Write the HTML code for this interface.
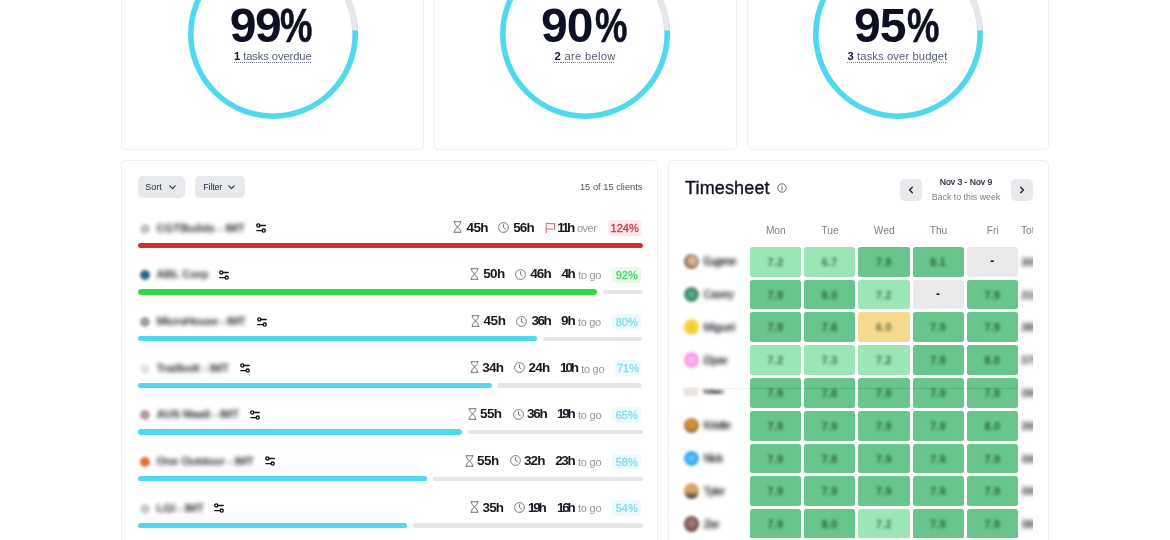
<!DOCTYPE html><html lang="en"><head><meta charset="utf-8"><title>Dashboard</title><style>
*{box-sizing:border-box;margin:0;padding:0}
html,body{width:1170px;height:540px;overflow:hidden;background:#fff}
body{position:relative;font-family:"Liberation Sans",sans-serif;color:#16182b}
.card{position:absolute;background:#fff;border:1px solid #efefef;border-radius:5px}
.abs{position:absolute;white-space:nowrap}
.gauge{position:absolute;width:172px;height:172px}
.big{position:absolute;font-weight:700;font-size:48px;line-height:50px;color:#0d0f22;white-space:nowrap}
.big i{font-style:normal;display:inline-block;transform:scaleX(.76);transform-origin:0 50%;-webkit-text-stroke:0.6px #0d0f22;letter-spacing:0}
.sub{position:absolute;font-size:11.2px;line-height:14px;color:#555d72;white-space:nowrap}
.sub span{text-decoration:underline dotted;text-decoration-thickness:1px;text-underline-offset:1.6px;text-decoration-color:#767d8f}
.sub b{color:#16182b}
.btn{position:absolute;background:#e8e9ec;border-radius:5px;font-size:9.5px;color:#2a2d3e}
.bar{position:absolute;height:5.2px;border-radius:3px}
.nm{position:absolute;font-size:11.5px;font-weight:700;color:#2e3038;filter:blur(1.9px);white-space:nowrap;line-height:14px}
.lg{position:absolute;width:10px;height:10px;border-radius:50%;filter:blur(1.8px)}
.t{position:absolute;font-size:13.5px;font-weight:700;line-height:14px;color:#181922;white-space:nowrap}
.g{position:absolute;font-size:11px;font-weight:400;line-height:14px;color:#9497a0;white-space:nowrap}
.bd{position:absolute;height:15.5px;border-radius:3px;font-size:11px;line-height:17.6px;text-align:center;font-weight:400;white-space:nowrap;-webkit-text-stroke:0.3px currentColor}
.ic{position:absolute}
.cell{position:absolute;width:51.4px;height:29.9px;border-radius:2.5px;text-align:center;font-size:10.5px;line-height:30px;font-weight:700;letter-spacing:0.4px;color:rgba(0,30,10,.62)}
.cell span{filter:blur(1.85px);display:inline-block}
.cell.dash{font-size:12px;color:#111;line-height:28.6px}
.day{position:absolute;width:52px;text-align:center;font-size:10.2px;line-height:12px;color:#7d8087}
.av{position:absolute;width:15.5px;height:15.5px;border-radius:50%;filter:blur(1.7px)}
.pn{position:absolute;font-size:11px;font-weight:400;color:#23262e;-webkit-text-stroke:0.35px #23262e;filter:blur(1.9px);white-space:nowrap;line-height:14px}
.tot{position:absolute;font-size:10.5px;font-weight:700;color:#2f3036;filter:blur(1.9px);line-height:14px}
</style></head><body>
<div class="card" style="left:121.4px;top:-20px;width:302.8px;height:170.1px"></div>
<svg class="gauge" style="left:186.8px;top:-52.2px" viewBox="0 0 172 172"><circle cx="86" cy="86" r="82.2" fill="none" stroke="#4fd8ee" stroke-width="5.6"/><path d="M168.1 82.4 A82.2 82.2 0 0 0 86 3.8" fill="none" stroke="#e7e7e9" stroke-width="6"/></svg>
<div class="big" style="left:229.7px;top:1.2px;letter-spacing:-1.4px">99<i style="margin-left:0px">%</i></div>
<div class="sub" style="left:234.0px;top:49.2px;letter-spacing:-0.098px"><span><b>1</b> tasks overdue</span></div>
<div class="card" style="left:434.0px;top:-20px;width:302.5px;height:170.1px"></div>
<svg class="gauge" style="left:499.2px;top:-52.2px" viewBox="0 0 172 172"><circle cx="86" cy="86" r="82.2" fill="none" stroke="#4fd8ee" stroke-width="5.6"/><path d="M168.1 82.4 A82.2 82.2 0 0 0 86 3.8" fill="none" stroke="#e7e7e9" stroke-width="6"/></svg>
<div class="big" style="left:541.0px;top:1.2px;letter-spacing:-0.9px">90<i style="margin-left:2px">%</i></div>
<div class="sub" style="left:554.6px;top:49.2px;letter-spacing:0.28px"><span><b>2</b> are below</span></div>
<div class="card" style="left:747.2px;top:-20px;width:301.9px;height:170.1px"></div>
<svg class="gauge" style="left:812.1px;top:-52.2px" viewBox="0 0 172 172"><circle cx="86" cy="86" r="82.2" fill="none" stroke="#4fd8ee" stroke-width="5.6"/><path d="M168.1 82.4 A82.2 82.2 0 0 0 86 3.8" fill="none" stroke="#e7e7e9" stroke-width="6"/></svg>
<div class="big" style="left:854.0px;top:1.2px;letter-spacing:-0.9px">95<i style="margin-left:1px">%</i></div>
<div class="sub" style="left:847.5px;top:49.2px;letter-spacing:0.12px"><span><b>3</b> tasks over budget</span></div>
<div class="card" style="left:121.4px;top:160.4px;width:536.7px;height:400px"></div>
<div class="btn" style="left:137.5px;top:176.2px;width:47.5px;height:22px"><span class="abs" style="left:7.8px;top:5px;line-height:12px;font-size:9px">Sort</span><svg class="ic" style="right:9.5px;top:8.6px" width="7" height="5" viewBox="0 0 7 5"><path d="M0.8 0.9 L3.5 3.7 L6.2 0.9" fill="none" stroke="#2a2d3e" stroke-width="1.15" stroke-linecap="round" stroke-linejoin="round"/></svg></div>
<div class="btn" style="left:195.3px;top:176.2px;width:49.4px;height:22px"><span class="abs" style="left:8px;top:5px;line-height:12px;font-size:9px;letter-spacing:-0.2px">Filter</span><svg class="ic" style="right:9.5px;top:8.6px" width="7" height="5" viewBox="0 0 7 5"><path d="M0.8 0.9 L3.5 3.7 L6.2 0.9" fill="none" stroke="#2a2d3e" stroke-width="1.15" stroke-linecap="round" stroke-linejoin="round"/></svg></div>
<div class="abs" style="right:527.5px;top:181px;font-size:9.3px;line-height:12px;color:#4a5163">15 of 15 clients</div>
<div class="bar" style="left:137.5px;top:242.6px;width:505.0px;background:#d22f32"></div>
<div class="lg" style="left:139.5px;top:223.5px;background:#c3c5cb"></div>
<div class="nm" style="left:156.5px;top:220.5px;letter-spacing:-0.081px">CGTBuilds - IMT</div>
<svg class="ic" style="left:255.5px;top:222.9px" width="10" height="10" viewBox="0 0 10 10"><path d="M3.8 2.4 H9.2 M0.8 7.6 H6.2" fill="none" stroke="#14151c" stroke-width="1.45" stroke-linecap="round"/><circle cx="2.3" cy="2.4" r="1.55" fill="none" stroke="#14151c" stroke-width="1.4"/><circle cx="7.7" cy="7.6" r="1.55" fill="none" stroke="#14151c" stroke-width="1.4"/></svg>
<svg class="ic" style="left:453.40000000000003px;top:221.0px" width="9" height="12" viewBox="0 0 9 12"><path d="M1 0.7 H8 M1 11.3 H8 M1.7 0.7 V2.6 C1.7 4.2 4.5 5 4.5 6 C4.5 7 1.7 7.8 1.7 9.4 V11.3 M7.3 0.7 V2.6 C7.3 4.2 4.5 5 4.5 6 C4.5 7 7.3 7.8 7.3 9.4 V11.3" fill="none" stroke="#6f727c" stroke-width="0.95" stroke-linecap="round" stroke-linejoin="round"/></svg>
<div class="t" style="left:466.5px;top:220.5px;letter-spacing:-0.631px">45h</div>
<svg class="ic" style="left:498.3px;top:221.8px" width="11" height="11" viewBox="0 0 11 11"><circle cx="5.5" cy="5.5" r="4.9" fill="none" stroke="#6f727c" stroke-width="0.95"/><path d="M5.5 2.6 V5.7 L7.4 6.8" fill="none" stroke="#6f727c" stroke-width="0.95" stroke-linecap="round" stroke-linejoin="round"/></svg>
<div class="t" style="left:513.3px;top:220.5px;letter-spacing:-0.931px">56h</div>
<svg class="ic" style="left:545.0999999999999px;top:221.5px" width="11" height="12" viewBox="0 0 11 12"><path d="M1.2 10.7 V1.2 M1.2 1.6 C3.5 0.4 6 2.4 9.6 1.4 V7 C6 8 3.5 6 1.2 7.2" fill="none" stroke="#e8636a" stroke-width="1.05" stroke-linecap="round" stroke-linejoin="round"/></svg>
<div class="t" style="left:557.3px;top:220.5px;letter-spacing:-2.3px">11h</div>
<div class="g" style="left:577.0px;top:221.3px;letter-spacing:-0.533px">over</div>
<div class="bd" style="left:607.8px;top:220.2px;width:33.7px;background:#fde9ea;color:#d5333b">124%</div>
<div class="bar" style="left:137.5px;top:289.4px;width:459.5px;background:#35d548"></div>
<div class="bar" style="left:603px;top:289.9px;height:4.4px;width:39.5px;background:#e6e6e6"></div>
<div class="lg" style="left:139.5px;top:270.3px;background:#2a6688"></div>
<div class="nm" style="left:156.5px;top:267.3px;letter-spacing:-0.207px">ABL Corp</div>
<svg class="ic" style="left:219.2px;top:269.7px" width="10" height="10" viewBox="0 0 10 10"><path d="M3.8 2.4 H9.2 M0.8 7.6 H6.2" fill="none" stroke="#14151c" stroke-width="1.45" stroke-linecap="round"/><circle cx="2.3" cy="2.4" r="1.55" fill="none" stroke="#14151c" stroke-width="1.4"/><circle cx="7.7" cy="7.6" r="1.55" fill="none" stroke="#14151c" stroke-width="1.4"/></svg>
<svg class="ic" style="left:470.40000000000003px;top:267.8px" width="9" height="12" viewBox="0 0 9 12"><path d="M1 0.7 H8 M1 11.3 H8 M1.7 0.7 V2.6 C1.7 4.2 4.5 5 4.5 6 C4.5 7 1.7 7.8 1.7 9.4 V11.3 M7.3 0.7 V2.6 C7.3 4.2 4.5 5 4.5 6 C4.5 7 7.3 7.8 7.3 9.4 V11.3" fill="none" stroke="#6f727c" stroke-width="0.95" stroke-linecap="round" stroke-linejoin="round"/></svg>
<div class="t" style="left:483.2px;top:267.3px;letter-spacing:-0.631px">50h</div>
<svg class="ic" style="left:515.3px;top:268.6px" width="11" height="11" viewBox="0 0 11 11"><circle cx="5.5" cy="5.5" r="4.9" fill="none" stroke="#6f727c" stroke-width="0.95"/><path d="M5.5 2.6 V5.7 L7.4 6.8" fill="none" stroke="#6f727c" stroke-width="0.95" stroke-linecap="round" stroke-linejoin="round"/></svg>
<div class="t" style="left:530.3px;top:267.3px;letter-spacing:-0.931px">46h</div>
<div class="t" style="left:561.5px;top:267.3px;letter-spacing:-1.455px">4h</div>
<div class="g" style="left:578.2px;top:268.1px;letter-spacing:-0.341px">to go</div>
<div class="bd" style="left:611.9px;top:267.0px;width:29.6px;background:#e6fbe9;color:#4cd662">92%</div>
<div class="bar" style="left:137.5px;top:336.3px;width:399.4px;background:#4fd8ee"></div>
<div class="bar" style="left:542.8px;top:336.8px;height:4.4px;width:99.7px;background:#e6e6e6"></div>
<div class="lg" style="left:139.5px;top:317.2px;background:#9d9fa6"></div>
<div class="nm" style="left:156.5px;top:314.2px;letter-spacing:-0.436px">MicroHouse - IMT</div>
<svg class="ic" style="left:256.5px;top:316.59999999999997px" width="10" height="10" viewBox="0 0 10 10"><path d="M3.8 2.4 H9.2 M0.8 7.6 H6.2" fill="none" stroke="#14151c" stroke-width="1.45" stroke-linecap="round"/><circle cx="2.3" cy="2.4" r="1.55" fill="none" stroke="#14151c" stroke-width="1.4"/><circle cx="7.7" cy="7.6" r="1.55" fill="none" stroke="#14151c" stroke-width="1.4"/></svg>
<svg class="ic" style="left:470.8px;top:314.7px" width="9" height="12" viewBox="0 0 9 12"><path d="M1 0.7 H8 M1 11.3 H8 M1.7 0.7 V2.6 C1.7 4.2 4.5 5 4.5 6 C4.5 7 1.7 7.8 1.7 9.4 V11.3 M7.3 0.7 V2.6 C7.3 4.2 4.5 5 4.5 6 C4.5 7 7.3 7.8 7.3 9.4 V11.3" fill="none" stroke="#6f727c" stroke-width="0.95" stroke-linecap="round" stroke-linejoin="round"/></svg>
<div class="t" style="left:483.6px;top:314.2px;letter-spacing:-0.481px">45h</div>
<svg class="ic" style="left:516.1px;top:315.5px" width="11" height="11" viewBox="0 0 11 11"><circle cx="5.5" cy="5.5" r="4.9" fill="none" stroke="#6f727c" stroke-width="0.95"/><path d="M5.5 2.6 V5.7 L7.4 6.8" fill="none" stroke="#6f727c" stroke-width="0.95" stroke-linecap="round" stroke-linejoin="round"/></svg>
<div class="t" style="left:531.4px;top:314.2px;letter-spacing:-1.431px">36h</div>
<div class="t" style="left:561.0px;top:314.2px;letter-spacing:-1.054px">9h</div>
<div class="g" style="left:578.0px;top:315.0px;letter-spacing:-0.316px">to go</div>
<div class="bd" style="left:611.9px;top:313.9px;width:29.6px;background:#eefbfe;color:#80dcee">80%</div>
<div class="bar" style="left:137.5px;top:382.8px;width:354.0px;background:#4fd8ee"></div>
<div class="bar" style="left:497.4px;top:383.3px;height:4.4px;width:145.1px;background:#e6e6e6"></div>
<div class="lg" style="left:139.5px;top:363.7px;background:#e3e4e7"></div>
<div class="nm" style="left:156.5px;top:360.7px;letter-spacing:-0.16px">Trailbolt - IMT</div>
<svg class="ic" style="left:239.7px;top:363.09999999999997px" width="10" height="10" viewBox="0 0 10 10"><path d="M3.8 2.4 H9.2 M0.8 7.6 H6.2" fill="none" stroke="#14151c" stroke-width="1.45" stroke-linecap="round"/><circle cx="2.3" cy="2.4" r="1.55" fill="none" stroke="#14151c" stroke-width="1.4"/><circle cx="7.7" cy="7.6" r="1.55" fill="none" stroke="#14151c" stroke-width="1.4"/></svg>
<svg class="ic" style="left:469.70000000000005px;top:361.2px" width="9" height="12" viewBox="0 0 9 12"><path d="M1 0.7 H8 M1 11.3 H8 M1.7 0.7 V2.6 C1.7 4.2 4.5 5 4.5 6 C4.5 7 1.7 7.8 1.7 9.4 V11.3 M7.3 0.7 V2.6 C7.3 4.2 4.5 5 4.5 6 C4.5 7 7.3 7.8 7.3 9.4 V11.3" fill="none" stroke="#6f727c" stroke-width="0.95" stroke-linecap="round" stroke-linejoin="round"/></svg>
<div class="t" style="left:482.3px;top:360.7px;letter-spacing:-0.781px">34h</div>
<svg class="ic" style="left:514.1px;top:362.0px" width="11" height="11" viewBox="0 0 11 11"><circle cx="5.5" cy="5.5" r="4.9" fill="none" stroke="#6f727c" stroke-width="0.95"/><path d="M5.5 2.6 V5.7 L7.4 6.8" fill="none" stroke="#6f727c" stroke-width="0.95" stroke-linecap="round" stroke-linejoin="round"/></svg>
<div class="t" style="left:528.6px;top:360.7px;letter-spacing:-0.781px">24h</div>
<div class="t" style="left:560.1px;top:360.7px;letter-spacing:-2.181px">10h</div>
<div class="g" style="left:581.2px;top:361.5px;letter-spacing:-0.266px">to go</div>
<div class="bd" style="left:614.5px;top:360.4px;width:27.0px;background:#eefbfe;color:#80dcee">71%</div>
<div class="bar" style="left:137.5px;top:429.4px;width:324.5px;background:#4fd8ee"></div>
<div class="bar" style="left:468px;top:429.9px;height:4.4px;width:174.5px;background:#e6e6e6"></div>
<div class="lg" style="left:139.5px;top:410.3px;background:#b59a9c"></div>
<div class="nm" style="left:156.5px;top:407.3px;letter-spacing:-0.275px">AUS Maali - IMT</div>
<svg class="ic" style="left:249.6px;top:409.7px" width="10" height="10" viewBox="0 0 10 10"><path d="M3.8 2.4 H9.2 M0.8 7.6 H6.2" fill="none" stroke="#14151c" stroke-width="1.45" stroke-linecap="round"/><circle cx="2.3" cy="2.4" r="1.55" fill="none" stroke="#14151c" stroke-width="1.4"/><circle cx="7.7" cy="7.6" r="1.55" fill="none" stroke="#14151c" stroke-width="1.4"/></svg>
<svg class="ic" style="left:468.0px;top:407.8px" width="9" height="12" viewBox="0 0 9 12"><path d="M1 0.7 H8 M1 11.3 H8 M1.7 0.7 V2.6 C1.7 4.2 4.5 5 4.5 6 C4.5 7 1.7 7.8 1.7 9.4 V11.3 M7.3 0.7 V2.6 C7.3 4.2 4.5 5 4.5 6 C4.5 7 7.3 7.8 7.3 9.4 V11.3" fill="none" stroke="#6f727c" stroke-width="0.95" stroke-linecap="round" stroke-linejoin="round"/></svg>
<div class="t" style="left:480.1px;top:407.3px;letter-spacing:-0.681px">55h</div>
<svg class="ic" style="left:512.6px;top:408.6px" width="11" height="11" viewBox="0 0 11 11"><circle cx="5.5" cy="5.5" r="4.9" fill="none" stroke="#6f727c" stroke-width="0.95"/><path d="M5.5 2.6 V5.7 L7.4 6.8" fill="none" stroke="#6f727c" stroke-width="0.95" stroke-linecap="round" stroke-linejoin="round"/></svg>
<div class="t" style="left:527.0px;top:407.3px;letter-spacing:-1.231px">36h</div>
<div class="t" style="left:557.0px;top:407.3px;letter-spacing:-2.3px">19h</div>
<div class="g" style="left:578.0px;top:408.1px;letter-spacing:-0.241px">to go</div>
<div class="bd" style="left:611.9px;top:407.0px;width:29.6px;background:#eefbfe;color:#80dcee">65%</div>
<div class="bar" style="left:137.5px;top:476.1px;width:289.5px;background:#4fd8ee"></div>
<div class="bar" style="left:432.5px;top:476.6px;height:4.4px;width:210.0px;background:#e6e6e6"></div>
<div class="lg" style="left:139.5px;top:457.0px;background:#e0703a"></div>
<div class="nm" style="left:156.5px;top:454.0px;letter-spacing:-0.227px">One Outdoor - IMT</div>
<svg class="ic" style="left:264.5px;top:456.4px" width="10" height="10" viewBox="0 0 10 10"><path d="M3.8 2.4 H9.2 M0.8 7.6 H6.2" fill="none" stroke="#14151c" stroke-width="1.45" stroke-linecap="round"/><circle cx="2.3" cy="2.4" r="1.55" fill="none" stroke="#14151c" stroke-width="1.4"/><circle cx="7.7" cy="7.6" r="1.55" fill="none" stroke="#14151c" stroke-width="1.4"/></svg>
<svg class="ic" style="left:464.6px;top:454.5px" width="9" height="12" viewBox="0 0 9 12"><path d="M1 0.7 H8 M1 11.3 H8 M1.7 0.7 V2.6 C1.7 4.2 4.5 5 4.5 6 C4.5 7 1.7 7.8 1.7 9.4 V11.3 M7.3 0.7 V2.6 C7.3 4.2 4.5 5 4.5 6 C4.5 7 7.3 7.8 7.3 9.4 V11.3" fill="none" stroke="#6f727c" stroke-width="0.95" stroke-linecap="round" stroke-linejoin="round"/></svg>
<div class="t" style="left:477.0px;top:454.0px;letter-spacing:-0.531px">55h</div>
<svg class="ic" style="left:510px;top:455.3px" width="11" height="11" viewBox="0 0 11 11"><circle cx="5.5" cy="5.5" r="4.9" fill="none" stroke="#6f727c" stroke-width="0.95"/><path d="M5.5 2.6 V5.7 L7.4 6.8" fill="none" stroke="#6f727c" stroke-width="0.95" stroke-linecap="round" stroke-linejoin="round"/></svg>
<div class="t" style="left:523.9px;top:454.0px;letter-spacing:-0.881px">32h</div>
<div class="t" style="left:555.2px;top:454.0px;letter-spacing:-1.381px">23h</div>
<div class="g" style="left:578.0px;top:454.8px;letter-spacing:-0.241px">to go</div>
<div class="bd" style="left:611.9px;top:453.7px;width:29.6px;background:#eefbfe;color:#80dcee">58%</div>
<div class="bar" style="left:137.5px;top:522.7px;width:269.2px;background:#4fd8ee"></div>
<div class="bar" style="left:412.5px;top:523.2px;height:4.4px;width:230.0px;background:#e6e6e6"></div>
<div class="lg" style="left:139.5px;top:503.6px;background:#c9ccd4"></div>
<div class="nm" style="left:156.5px;top:500.6px;letter-spacing:-0.248px">LGI - IMT</div>
<svg class="ic" style="left:214.39999999999998px;top:502.99999999999994px" width="10" height="10" viewBox="0 0 10 10"><path d="M3.8 2.4 H9.2 M0.8 7.6 H6.2" fill="none" stroke="#14151c" stroke-width="1.45" stroke-linecap="round"/><circle cx="2.3" cy="2.4" r="1.55" fill="none" stroke="#14151c" stroke-width="1.4"/><circle cx="7.7" cy="7.6" r="1.55" fill="none" stroke="#14151c" stroke-width="1.4"/></svg>
<svg class="ic" style="left:469.90000000000003px;top:501.09999999999997px" width="9" height="12" viewBox="0 0 9 12"><path d="M1 0.7 H8 M1 11.3 H8 M1.7 0.7 V2.6 C1.7 4.2 4.5 5 4.5 6 C4.5 7 1.7 7.8 1.7 9.4 V11.3 M7.3 0.7 V2.6 C7.3 4.2 4.5 5 4.5 6 C4.5 7 7.3 7.8 7.3 9.4 V11.3" fill="none" stroke="#6f727c" stroke-width="0.95" stroke-linecap="round" stroke-linejoin="round"/></svg>
<div class="t" style="left:482.5px;top:500.6px;letter-spacing:-0.881px">35h</div>
<svg class="ic" style="left:513.6px;top:501.9px" width="11" height="11" viewBox="0 0 11 11"><circle cx="5.5" cy="5.5" r="4.9" fill="none" stroke="#6f727c" stroke-width="0.95"/><path d="M5.5 2.6 V5.7 L7.4 6.8" fill="none" stroke="#6f727c" stroke-width="0.95" stroke-linecap="round" stroke-linejoin="round"/></svg>
<div class="t" style="left:528.1px;top:500.6px;letter-spacing:-2.3px">19h</div>
<div class="t" style="left:557.0px;top:500.6px;letter-spacing:-2.3px">16h</div>
<div class="g" style="left:578.0px;top:501.4px;letter-spacing:-0.241px">to go</div>
<div class="bd" style="left:611.9px;top:500.3px;width:29.6px;background:#eefbfe;color:#80dcee">54%</div>
<div class="card" style="left:667.8px;top:160.4px;width:381.3px;height:400px"></div>
<div class="abs" style="left:685px;top:176.6px;font-size:18px;line-height:22px;color:#111322;letter-spacing:0.15px;-webkit-text-stroke:0.35px #111322">Timesheet</div>
<svg class="ic" style="left:777px;top:183px" width="10" height="10" viewBox="0 0 10 10"><circle cx="5" cy="5" r="4.2" fill="none" stroke="#555a66" stroke-width="0.9"/><path d="M5 4.6 V7.1" stroke="#555a66" stroke-width="1" stroke-linecap="round"/><circle cx="5" cy="3" r="0.6" fill="#555a66"/></svg>
<div class="btn" style="left:900px;top:178.5px;width:22px;height:22px"><svg class="ic" style="left:8px;top:7px" width="6" height="8" viewBox="0 0 6 8"><path d="M4.3 1.2 L1.6 4 L4.3 6.8" fill="none" stroke="#1b1d2e" stroke-width="1.3" stroke-linecap="round" stroke-linejoin="round"/></svg></div>
<div class="btn" style="left:1010.5px;top:178.5px;width:22px;height:22px"><svg class="ic" style="left:8px;top:7px" width="6" height="8" viewBox="0 0 6 8"><path d="M1.7 1.2 L4.4 4 L1.7 6.8" fill="none" stroke="#1b1d2e" stroke-width="1.3" stroke-linecap="round" stroke-linejoin="round"/></svg></div>
<div class="abs" style="left:916px;width:100px;text-align:center;top:175.7px;font-size:8.6px;line-height:12px;color:#1b1d2e;-webkit-text-stroke:0.2px #1b1d2e">Nov 3 - Nov 9</div>
<div class="abs" style="left:916px;width:100px;text-align:center;top:191px;font-size:8.8px;line-height:12px;color:#7b818c">Back to this week</div>
<div style="position:absolute;left:680px;top:220px;width:353px;height:318px;overflow:hidden">
<div class="day" style="left:69.8px;top:4.8px">Mon</div>
<div class="day" style="left:124.0px;top:4.8px">Tue</div>
<div class="day" style="left:178.2px;top:4.8px">Wed</div>
<div class="day" style="left:232.5px;top:4.8px">Thu</div>
<div class="day" style="left:286.7px;top:4.8px">Fri</div>
<div class="day" style="left:341px;top:4.8px;width:40px;text-align:left">Total</div>
<div class="av" style="left:3.5px;top:33.8px;background:radial-gradient(circle at 55% 45%,#d8b497 0 30%,#8a6a50 60%,#6b5444 100%)"></div>
<div class="pn" style="left:23.5px;top:34.2px;letter-spacing:-0.985px">Eugene</div>
<div class="cell" style="left:69.8px;top:26.7px;background:#9be5b7"><span>7.2</span></div>
<div class="cell" style="left:124.0px;top:26.7px;background:#9be5b7"><span>6.7</span></div>
<div class="cell" style="left:178.2px;top:26.7px;background:#68c58c"><span>7.9</span></div>
<div class="cell" style="left:232.5px;top:26.7px;background:#68c58c"><span>8.1</span></div>
<div class="cell dash" style="left:286.7px;top:26.7px;background:#e9e9e9">-</div>
<div class="tot" style="left:341px;top:34.7px">30h</div>
<div class="av" style="left:3.5px;top:66.6px;background:radial-gradient(circle,#5aa98a 0 25%,#3f8f6e 45%)"></div>
<div class="pn" style="left:23.5px;top:67.0px;letter-spacing:-0.17px">Casey</div>
<div class="cell" style="left:69.8px;top:59.5px;background:#68c58c"><span>7.9</span></div>
<div class="cell" style="left:124.0px;top:59.5px;background:#68c58c"><span>8.0</span></div>
<div class="cell" style="left:178.2px;top:59.5px;background:#9be5b7"><span>7.2</span></div>
<div class="cell dash" style="left:232.5px;top:59.5px;background:#e9e9e9">-</div>
<div class="cell" style="left:286.7px;top:59.5px;background:#68c58c"><span>7.9</span></div>
<div class="tot" style="left:341px;top:67.5px">31h</div>
<div class="av" style="left:3.5px;top:99.4px;background:radial-gradient(circle,#f3c92e 0 20%,#f7d63c 45%)"></div>
<div class="pn" style="left:23.5px;top:99.8px;letter-spacing:-0.181px">Miguel</div>
<div class="cell" style="left:69.8px;top:92.3px;background:#68c58c"><span>7.9</span></div>
<div class="cell" style="left:124.0px;top:92.3px;background:#68c58c"><span>7.8</span></div>
<div class="cell" style="left:178.2px;top:92.3px;background:#f6da8f"><span>6.0</span></div>
<div class="cell" style="left:232.5px;top:92.3px;background:#68c58c"><span>7.9</span></div>
<div class="cell" style="left:286.7px;top:92.3px;background:#68c58c"><span>7.9</span></div>
<div class="tot" style="left:341px;top:100.3px">38h</div>
<div class="av" style="left:3.5px;top:132.2px;background:radial-gradient(circle,#fdb4ee 0 20%,#fb9de6 45%)"></div>
<div class="pn" style="left:23.5px;top:132.6px;letter-spacing:-0.7px">Elyse</div>
<div class="cell" style="left:69.8px;top:125.1px;background:#9be5b7"><span>7.2</span></div>
<div class="cell" style="left:124.0px;top:125.1px;background:#9be5b7"><span>7.3</span></div>
<div class="cell" style="left:178.2px;top:125.1px;background:#9be5b7"><span>7.2</span></div>
<div class="cell" style="left:232.5px;top:125.1px;background:#68c58c"><span>7.9</span></div>
<div class="cell" style="left:286.7px;top:125.1px;background:#68c58c"><span>8.0</span></div>
<div class="tot" style="left:341px;top:133.1px">37h</div>
<div class="av" style="left:3px;top:168.4px;height:8px;border-radius:4px;background:#ebe1de"></div>
<div class="pn" style="left:23.5px;top:164.4px;letter-spacing:-1.315px;transform:scaleY(.7)">Marc</div>
<div class="cell" style="left:69.8px;top:157.9px;background:#68c58c"><span>7.9</span></div>
<div class="cell" style="left:124.0px;top:157.9px;background:#68c58c"><span>7.8</span></div>
<div class="cell" style="left:178.2px;top:157.9px;background:#68c58c"><span>7.9</span></div>
<div class="cell" style="left:232.5px;top:157.9px;background:#68c58c"><span>7.9</span></div>
<div class="cell" style="left:286.7px;top:157.9px;background:#68c58c"><span>7.9</span></div>
<div class="tot" style="left:341px;top:165.9px">39h</div>
<div class="av" style="left:3.5px;top:197.8px;background:radial-gradient(circle at 50% 40%,#d88f35 0 35%,#8a6248 75%)"></div>
<div class="pn" style="left:23.5px;top:198.2px;letter-spacing:-0.51px">Kristle</div>
<div class="cell" style="left:69.8px;top:190.7px;background:#68c58c"><span>7.9</span></div>
<div class="cell" style="left:124.0px;top:190.7px;background:#68c58c"><span>7.9</span></div>
<div class="cell" style="left:178.2px;top:190.7px;background:#68c58c"><span>7.9</span></div>
<div class="cell" style="left:232.5px;top:190.7px;background:#68c58c"><span>7.9</span></div>
<div class="cell" style="left:286.7px;top:190.7px;background:#68c58c"><span>8.0</span></div>
<div class="tot" style="left:341px;top:198.7px">39h</div>
<div class="av" style="left:3.5px;top:230.6px;background:radial-gradient(circle,#6cc2f7 0 20%,#38a7f0 45%)"></div>
<div class="pn" style="left:23.5px;top:231.0px;letter-spacing:-0.629px">Nick</div>
<div class="cell" style="left:69.8px;top:223.5px;background:#68c58c"><span>7.9</span></div>
<div class="cell" style="left:124.0px;top:223.5px;background:#68c58c"><span>7.8</span></div>
<div class="cell" style="left:178.2px;top:223.5px;background:#68c58c"><span>7.9</span></div>
<div class="cell" style="left:232.5px;top:223.5px;background:#68c58c"><span>7.9</span></div>
<div class="cell" style="left:286.7px;top:223.5px;background:#68c58c"><span>7.9</span></div>
<div class="tot" style="left:341px;top:231.5px">39h</div>
<div class="av" style="left:3.5px;top:263.4px;background:linear-gradient(180deg,#d9a56a 0 50%,#5b4a42 85%)"></div>
<div class="pn" style="left:23.5px;top:263.8px;letter-spacing:-0.584px">Tyler</div>
<div class="cell" style="left:69.8px;top:256.3px;background:#68c58c"><span>7.9</span></div>
<div class="cell" style="left:124.0px;top:256.3px;background:#68c58c"><span>7.9</span></div>
<div class="cell" style="left:178.2px;top:256.3px;background:#68c58c"><span>7.9</span></div>
<div class="cell" style="left:232.5px;top:256.3px;background:#68c58c"><span>7.9</span></div>
<div class="cell" style="left:286.7px;top:256.3px;background:#68c58c"><span>7.9</span></div>
<div class="tot" style="left:341px;top:264.3px">39h</div>
<div class="av" style="left:3.5px;top:296.2px;background:radial-gradient(circle at 50% 45%,#9a7a70 0 25%,#63463f 70%)"></div>
<div class="pn" style="left:23.5px;top:296.6px;letter-spacing:-1.527px">Zoe</div>
<div class="cell" style="left:69.8px;top:289.1px;background:#68c58c"><span>7.9</span></div>
<div class="cell" style="left:124.0px;top:289.1px;background:#68c58c"><span>8.0</span></div>
<div class="cell" style="left:178.2px;top:289.1px;background:#9be5b7"><span>7.2</span></div>
<div class="cell" style="left:232.5px;top:289.1px;background:#68c58c"><span>7.9</span></div>
<div class="cell" style="left:286.7px;top:289.1px;background:#68c58c"><span>7.9</span></div>
<div class="tot" style="left:341px;top:297.1px">38h</div>
<div style="position:absolute;left:70px;top:168.2px;width:268px;height:1px;background:rgba(10,60,30,.14)"></div>
<div style="position:absolute;left:3px;top:168.2px;width:67px;height:1px;background:rgba(20,60,40,.05)"></div>
</div>
</body></html>
